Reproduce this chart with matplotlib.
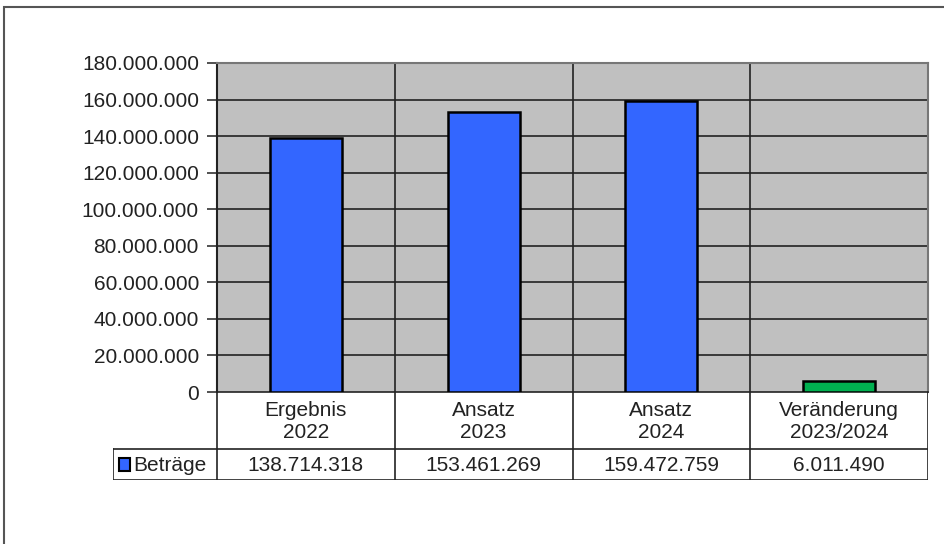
import matplotlib
matplotlib.use("Agg")
import matplotlib.pyplot as plt
from matplotlib.patches import Rectangle
from matplotlib.lines import Line2D

categories = ["Ergebnis\n2022", "Ansatz\n2023", "Ansatz\n2024", "Veränderung\n2023/2024"]
values = [138714318, 153461269, 159472759, 6011490]
value_labels = ["138.714.318", "153.461.269", "159.472.759", "6.011.490"]
bar_colors = ["#3366FF", "#3366FF", "#3366FF", "#00B050"]
series_name = "Beträge"
yticks = list(range(0, 180000001, 20000000))

plt.rcParams['font.family'] = ['Liberation Sans', 'DejaVu Sans']
W, H = 944, 544
fig = plt.figure(figsize=(W / 100, H / 100), dpi=100)
FS = 15

def fx(px):
    return px / W

def fy(py):
    return 1 - py / H

# outer frame
fig.add_artist(Rectangle((fx(4), fy(600)), fx(1000), fy(7) - fy(600), transform=fig.transFigure,
                         fill=False, edgecolor="#555555", linewidth=1.5))

left, right, top, bottom = 217, 928, 63, 392
ax = fig.add_axes([fx(left), fy(bottom), fx(right) - fx(left), fy(top) - fy(bottom)])
ax.set_facecolor("#C0C0C0")
n = len(categories)
ax.set_xlim(0, n)
ax.set_ylim(0, 180000000)
x = [i + 0.5 for i in range(n)]
ax.bar(x, values, width=0.405, color=bar_colors, edgecolor="black", linewidth=1.8, zorder=3)
ax.set_yticks(yticks)
ax.set_yticklabels([f"{v:,}".replace(",", ".") for v in yticks], fontsize=FS, color="#222222")
ax.tick_params(axis="y", length=7, width=1.2, color="#333333", pad=6)
ax.set_xticks([])
for yv in yticks[1:]:
    ax.axhline(yv, color="#222222", linewidth=1.2, zorder=1)
for i in range(1, n):
    ax.axvline(i, color="#222222", linewidth=1.2, zorder=1)
for s in ["top", "right"]:
    ax.spines[s].set_color("#777777")
    ax.spines[s].set_linewidth(1.5)
ax.spines["left"].set_color("#222222")
ax.spines["left"].set_linewidth(1.5)
ax.spines["bottom"].set_color("#222222")
ax.spines["bottom"].set_linewidth(1.2)

# table below
tab_left = 113
hdr_bot, val_bot = 449, 480
tax = fig.add_axes([fx(tab_left), fy(val_bot), fx(right) - fx(tab_left), fy(bottom) - fy(val_bot)])
tax.set_xlim(tab_left, right)
tax.set_ylim(val_bot, bottom)
tax.axis("off")
cw = (right - left) / n
lc = "#222222"
lw = 1.2
for i in range(n + 1):
    xv = left + i * cw
    tax.add_line(Line2D([xv, xv], [bottom, val_bot], color=lc, lw=lw))
tax.add_line(Line2D([tab_left, tab_left], [hdr_bot, val_bot], color=lc, lw=lw))
tax.add_line(Line2D([tab_left, right], [hdr_bot, hdr_bot], color=lc, lw=lw))
tax.add_line(Line2D([tab_left, right], [val_bot, val_bot], color=lc, lw=lw))
for i, (c, v) in enumerate(zip(categories, value_labels)):
    cx = left + (i + 0.5) * cw
    tax.text(cx, (bottom + hdr_bot) / 2 + 1, c, ha="center", va="center", fontsize=FS,
             color="#222222", linespacing=1.2)
    tax.text(cx, (hdr_bot + val_bot) / 2 + 1, v, ha="center", va="center", fontsize=FS,
             color="#222222")
# legend key
tax.add_patch(Rectangle((119, 458), 11, 13, facecolor=bar_colors[0], edgecolor="black", lw=1.5))
tax.text(133, (hdr_bot + val_bot) / 2 + 1, series_name, ha="left", va="center", fontsize=FS,
         color="#222222")

fig.savefig("out.png", dpi=100)
